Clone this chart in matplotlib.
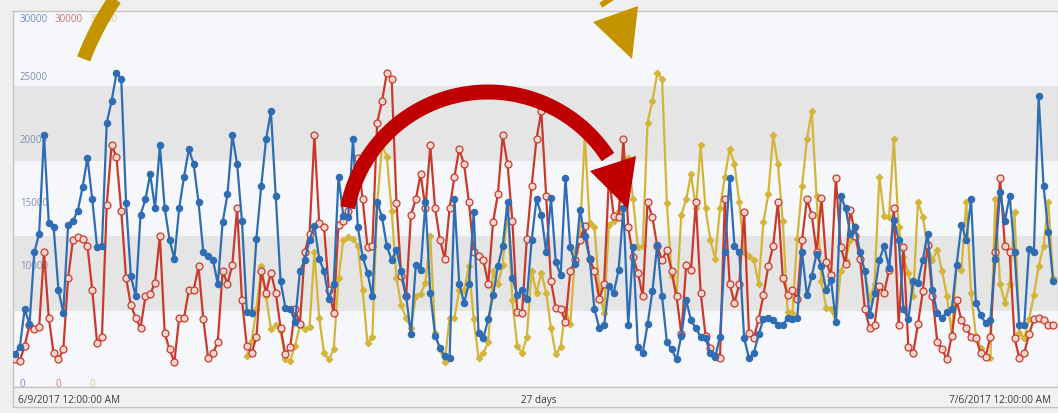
import numpy as np
import pandas as pd
import matplotlib.pyplot as plt
from matplotlib.patches import Rectangle, Polygon
from matplotlib.lines import Line2D
import matplotlib.transforms as mtransforms

# three-hourly values in thousands, 6/9/2017 00:00 -> 7/6/2017 00:00
# blue = this period, red = one week earlier, gold = two weeks earlier
blue_k = [
    2.9, 3.5, 6.5, 5.3, 11, 12.5, 20.3, 13.3, 13, 8.0, 6.2, 13.2,
    13.5, 14.3, 16.2, 18.5, 15.2, 11.4, 11.5, 21.3, 23, 25.2, 24.8, 14.9,
    9.1, 7.5, 14, 15.2, 17.2, 14.5, 19.5, 14.5, 12, 10.5, 14.5, 17,
    19.2, 18, 15, 11, 10.7, 10.4, 8.5, 13.4, 15.6, 20.3, 18, 13.5,
    6.3, 6.2, 12.1, 16.3, 20, 22.2, 15.5, 8.7, 6.6, 6.5, 5.5, 9.5,
    10.4, 12, 13.1, 10.5, 9.5, 7.3, 8.5, 17, 13.9, 13.8, 20, 13,
    10.6, 9.4, 7.5, 15, 13.8, 11.5, 10.4, 11.2, 9.5, 7.5, 4.5, 10,
    9.6, 15, 7.8, 4.4, 3.4, 2.8, 2.6, 15.2, 8.5, 7, 8.5, 14.2,
    4.6, 4.2, 5.7, 7.6, 9.9, 11.5, 15, 9, 7.6, 8, 7.3, 12,
    15.2, 14, 11, 15.3, 10.2, 9.2, 16.9, 11.4, 10.1, 14.4, 12.3, 10.5,
    6.5, 5, 5.2, 8.3, 7.8, 9.6, 14.5, 5.2, 11.4, 3.5, 3.0, 5.3,
    7.9, 11.6, 7.5, 3.9, 3.3, 2.5, 4.4, 7.2, 5.6, 5, 4.3, 4.2,
    3.0, 2.7, 4.3, 11, 16.9, 11.5, 11, 4.2, 2.6, 3.0, 4.5, 5.7,
    5.8, 5.6, 5.2, 5.2, 5.8, 5.7, 5.8, 11, 7.6, 9.1, 10.9, 9.9,
    8, 8.8, 5.5, 15.5, 14.5, 12.5, 13, 11, 9.5, 6, 7.8, 10.4,
    11.5, 9.8, 13.6, 12, 6.5, 5.7, 8.7, 8.6, 10.4, 12.5, 8, 6.2,
    5.8, 6.3, 6.5, 10, 13.2, 12, 15.2, 7, 6, 5.4, 5.6, 10.5,
    15.8, 13.5, 15.5, 11, 5.2, 5.2, 11.3, 11, 23.4, 16.3, 12.6, 8.7,
]

red_k = [
    2.5, 2.4, 3.6, 5.2, 4.9, 5.1, 11, 5.8, 3.0, 2.5, 3.3, 9,
    12, 12.2, 12.1, 11.5, 8, 3.8, 4.3, 14.8, 19.5, 18.6, 14.3, 9,
    6.8, 5.8, 5, 7.5, 7.7, 8.6, 12.3, 4.6, 3.3, 2.3, 5.8, 5.8,
    8, 8, 9.9, 5.7, 2.6, 3.0, 3.9, 9.5, 8.5, 10, 14.5, 7.2,
    3.6, 3.0, 4.3, 9.5, 7.8, 9.4, 7.8, 5.0,
    2.9, 3.5, 6.5, 5.3, 11, 12.5, 20.3, 13.3, 13, 8.0, 6.2, 13.2,
    13.5, 14.3, 16.2, 18.5, 15.2, 11.4, 11.5, 21.3, 23, 25.2, 24.8, 14.9,
    9.1, 7.5, 14, 15.2, 17.2, 14.5, 19.5, 14.5, 12, 10.5, 14.5, 17,
    19.2, 18, 15, 11, 10.7, 10.4, 8.5, 13.4, 15.6, 20.3, 18, 13.5,
    6.3, 6.2, 12.1, 16.3, 20, 22.2, 15.5, 8.7, 6.6, 6.5, 5.5, 9.5,
    10.4, 12, 13.1, 10.5, 9.5, 7.3, 8.5, 17, 13.9, 13.8, 20, 13,
    10.6, 9.4, 7.5, 15, 13.8, 11.5, 10.4, 11.2, 9.5, 7.5, 4.5, 10,
    9.6, 15, 7.8, 4.4, 3.4, 2.8, 2.6, 15.2, 8.5, 7, 8.5, 14.2,
    4.6, 4.2, 5.7, 7.6, 9.9, 11.5, 15, 9, 7.6, 8, 7.3, 12,
    15.2, 14, 11, 15.3, 10.2, 9.2, 16.9, 11.4, 10.1, 14.4, 12.3, 10.5,
    6.5, 5, 5.2, 8.3, 7.8, 9.6, 14.5, 5.2, 11.4, 3.5, 3.0, 5.3,
    7.9, 11.6, 7.5, 3.9, 3.3, 2.5, 4.4, 7.2, 5.6, 5, 4.3, 4.2,
    3.0, 2.7, 4.3, 11, 16.9, 11.5, 11, 4.2, 2.6, 3.0, 4.5, 5.7,
    5.8, 5.6, 5.2, 5.2,
]

nan = float("nan")
gold_k = [nan] * 48 + [
    2.8, 4.0, 6.5, 9.9, 7.5, 4.9, 5.2, 4.8,
    2.5, 2.4, 3.6, 5.2, 4.9, 5.1, 11, 5.8, 3.0, 2.5, 3.3, 9,
    12, 12.2, 12.1, 11.5, 8, 3.8, 4.3, 14.8, 19.5, 18.6, 14.3, 9,
    6.8, 5.8, 5, 7.5, 7.7, 8.6, 12.3, 4.6, 3.3, 2.3, 5.8, 5.8,
    8, 8, 9.9, 5.7, 2.6, 3.0, 3.9, 9.5, 8.5, 10, 14.5, 7.2,
    3.6, 3.0, 4.3, 9.5, 7.8, 9.4, 7.8, 5.0,
    2.9, 3.5, 6.5, 5.3, 11, 12.5, 20.3, 13.3, 13, 8.0, 6.2, 13.2,
    13.5, 14.3, 16.2, 18.5, 15.2, 11.4, 11.5, 21.3, 23, 25.2, 24.8, 14.9,
    9.1, 7.5, 14, 15.2, 17.2, 14.5, 19.5, 14.5, 12, 10.5, 14.5, 17,
    19.2, 18, 15, 11, 10.7, 10.4, 8.5, 13.4, 15.6, 20.3, 18, 13.5,
    6.3, 6.2, 12.1, 16.3, 20, 22.2, 15.5, 8.7, 6.6, 6.5, 5.5, 9.5,
    10.4, 12, 13.1, 10.5, 9.5, 7.3, 8.5, 17, 13.9, 13.8, 20, 13,
    10.6, 9.4, 7.5, 15, 13.8, 11.5, 10.4, 11.2, 9.5, 7.5, 4.5, 10,
    9.6, 15, 7.8, 4.4, 3.4, 2.8, 2.6, 15.2, 8.5, 7, 8.5, 14.2,
    4.6, 4.2, 5.7, 7.6, 9.9, 11.5, 15, 9,
]

y_labels = ["25000", "20000", "15000", "10000"]
y_label_vals = [25000, 20000, 15000, 10000]
start_label = "6/9/2017 12:00:00 AM"
span_label = "27 days"
end_label = "7/6/2017 12:00:00 AM"

blue_c, red_c, gold_c = "#2e6db4", "#c93a2c", "#d4b53a"

t = pd.date_range("2017-06-09", periods=len(blue_k), freq="3h")
blue = np.array(blue_k) * 1000
red = np.array(red_k) * 1000
gold = np.array(gold_k) * 1000

W, H = 1058, 414
fig = plt.figure(figsize=(W / 100, H / 100), dpi=100)
fig.patch.set_facecolor("#efefef")
plt.rcParams["font.family"] = ["Open Sans", "DejaVu Sans"]


def fx(px):
    return px / W


def fy(py):  # image y (down) -> figure fraction
    return (H - py) / H


ax = fig.add_axes([fx(13), fy(388), fx(W - 13), (388 - 12) / H])
ax.set_facecolor("#f6f7fb")
ax.set_xlim(t[0] - pd.Timedelta(hours=1.25), t[0] + pd.Timedelta(days=27))
ax.set_ylim(317, 30160)
ax.set_xticks([])
ax.set_yticks([])
for s in ax.spines.values():
    s.set_color("#c4c4c4")
    s.set_linewidth(1)

ax.axhspan(18250, 24200, color="#e5e5e5", zorder=0, lw=0)
ax.axhspan(6350, 12300, color="#e5e5e5", zorder=0, lw=0)

lbl = mtransforms.blended_transform_factory(ax.transAxes, ax.transData)
for txt, v in zip(y_labels, y_label_vals):
    ax.text(7 / 1045, v, txt, transform=lbl, fontsize=7, color="#7f90b0",
            va="center", ha="left", zorder=1)
for i, c in enumerate(["#6a8cc0", "#d07070", "#dcc98a"]):
    ax.text((7 + 35 * i) / 1045, 29600, "30000", transform=lbl, fontsize=7,
            color=c, va="center", ha="left", zorder=1)
    ax.text((7 + 35 * i) / 1045, 600, "0", transform=lbl, fontsize=7,
            color=c, va="center", ha="left", zorder=1)

ax.plot(t, gold, color=gold_c, lw=1.6, marker="D", ms=3.2, mfc=gold_c,
        mec=gold_c, zorder=3)
ax.plot(t, red, color=red_c, lw=1.6, marker="o", ms=5, mfc="#f2d6d0",
        mec=red_c, mew=0.9, zorder=4)
ax.plot(t, blue, color=blue_c, lw=1.6, marker="o", ms=4.4, mfc=blue_c,
        mec=blue_c, zorder=5)

# bottom strip with the range labels
fig.add_artist(Rectangle((fx(13), fy(408)), fx(W), fy(388) - fy(408),
                         transform=fig.transFigure, facecolor="#f1f1f1",
                         edgecolor="#c4c4c4", lw=1))
fig.text(fx(18), fy(401), start_label, fontsize=7.2, color="#3a3a3a",
         va="center", ha="left")
fig.text(fx(539), fy(401), span_label, fontsize=7.2, color="#3a3a3a",
         va="center", ha="center")
fig.text(fx(1051), fy(401), end_label, fontsize=7.2, color="#3a3a3a",
         va="center", ha="right")


def arc_arrow(cx, cy, r, a0, a1, width_px, head, color):
    # cx, cy, head given in image pixels (y down)
    ang = np.radians(np.linspace(a0, a1, 120))
    xs = cx + r * np.cos(ang)
    ys = cy - r * np.sin(ang)
    fig.add_artist(Line2D(fx(xs), fy(ys), transform=fig.transFigure,
                          lw=width_px * 0.72, color=color,
                          solid_capstyle="butt", zorder=10))
    pts = [(fx(px), fy(py)) for px, py in head]
    fig.add_artist(Polygon(pts, closed=True, transform=fig.transFigure,
                           facecolor=color, edgecolor="none", zorder=11))


arc_arrow(488, 236, 143, 169, 33, 15,
          [(590, 172), (636, 157), (628, 210)], "#c00000")
arc_arrow(360, 166, 296, 159, 33, 14,
          [(593, 23), (638, 7), (632, 60)], "#c39400")

fig.savefig("out.png", dpi=100, facecolor=fig.get_facecolor())
